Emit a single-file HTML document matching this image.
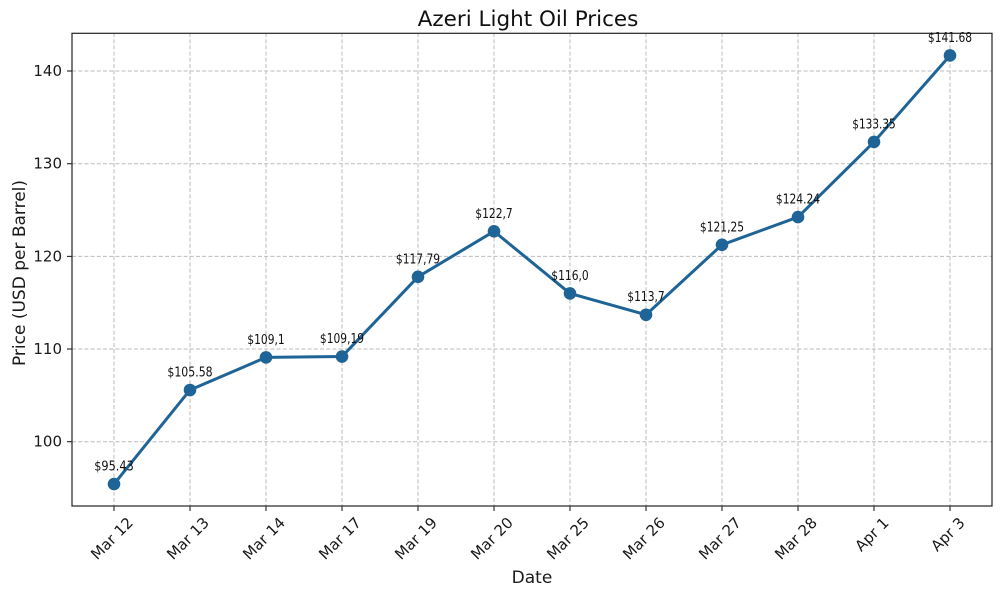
<!DOCTYPE html>
<html>
<head>
<meta charset="utf-8">
<style>
  html,body{margin:0;padding:0;background:#fff;}
  svg{display:block;}
  .tick{font-family:"DejaVu Sans","Liberation Sans",sans-serif;font-size:15px;fill:#1a1a1a;}
  .ann{font-family:"DejaVu Sans Condensed","DejaVu Sans","Liberation Sans",sans-serif;font-stretch:condensed;font-size:13.5px;fill:#111;}
</style>
</head>
<body>
<svg width="1000" height="596" viewBox="0 0 1000 596" xmlns="http://www.w3.org/2000/svg">
  <rect width="1000" height="596" fill="#fff"/>
  <!-- grid -->
  <g stroke="#b0b0b0" stroke-width="1" stroke-dasharray="4,2.2" opacity="0.85">
    <line x1="114" y1="33" x2="114" y2="506"/>
    <line x1="190" y1="33" x2="190" y2="506"/>
    <line x1="266" y1="33" x2="266" y2="506"/>
    <line x1="342" y1="33" x2="342" y2="506"/>
    <line x1="418" y1="33" x2="418" y2="506"/>
    <line x1="494" y1="33" x2="494" y2="506"/>
    <line x1="570" y1="33" x2="570" y2="506"/>
    <line x1="646" y1="33" x2="646" y2="506"/>
    <line x1="722" y1="33" x2="722" y2="506"/>
    <line x1="798" y1="33" x2="798" y2="506"/>
    <line x1="874" y1="33" x2="874" y2="506"/>
    <line x1="950" y1="33" x2="950" y2="506"/>
    <line x1="72" y1="441.7" x2="992" y2="441.7"/>
    <line x1="72" y1="349.0" x2="992" y2="349.0"/>
    <line x1="72" y1="256.4" x2="992" y2="256.4"/>
    <line x1="72" y1="163.7" x2="992" y2="163.7"/>
    <line x1="72" y1="71.0" x2="992" y2="71.0"/>
  </g>
  <!-- axes frame -->
  <rect x="72" y="33.3" width="920" height="472.7" fill="none" stroke="#222" stroke-width="1.2"/>
  <!-- y ticks -->
  <g stroke="#222" stroke-width="1.1">
    <line x1="67" y1="441.7" x2="72" y2="441.7"/>
    <line x1="67" y1="349.0" x2="72" y2="349.0"/>
    <line x1="67" y1="256.4" x2="72" y2="256.4"/>
    <line x1="67" y1="163.7" x2="72" y2="163.7"/>
    <line x1="67" y1="71.0" x2="72" y2="71.0"/>
  </g>
  <g class="tick" text-anchor="end" dominant-baseline="central">
    <text x="62" y="441.7">100</text>
    <text x="62" y="349.0">110</text>
    <text x="62" y="256.4">120</text>
    <text x="62" y="163.7">130</text>
    <text x="62" y="71.0">140</text>
  </g>
  <!-- x ticks -->
  <g stroke="#222" stroke-width="1.1">
    <line x1="114" y1="506" x2="114" y2="511"/>
    <line x1="190" y1="506" x2="190" y2="511"/>
    <line x1="266" y1="506" x2="266" y2="511"/>
    <line x1="342" y1="506" x2="342" y2="511"/>
    <line x1="418" y1="506" x2="418" y2="511"/>
    <line x1="494" y1="506" x2="494" y2="511"/>
    <line x1="570" y1="506" x2="570" y2="511"/>
    <line x1="646" y1="506" x2="646" y2="511"/>
    <line x1="722" y1="506" x2="722" y2="511"/>
    <line x1="798" y1="506" x2="798" y2="511"/>
    <line x1="874" y1="506" x2="874" y2="511"/>
    <line x1="950" y1="506" x2="950" y2="511"/>
  </g>
  <g class="tick" text-anchor="middle" dominant-baseline="central">
    <text transform="translate(112,538.5) rotate(-45)">Mar 12</text>
    <text transform="translate(188,538.5) rotate(-45)">Mar 13</text>
    <text transform="translate(264,538.5) rotate(-45)">Mar 14</text>
    <text transform="translate(340,538.5) rotate(-45)">Mar 17</text>
    <text transform="translate(416,538.5) rotate(-45)">Mar 19</text>
    <text transform="translate(492,538.5) rotate(-45)">Mar 20</text>
    <text transform="translate(568,538.5) rotate(-45)">Mar 25</text>
    <text transform="translate(644,538.5) rotate(-45)">Mar 26</text>
    <text transform="translate(720,538.5) rotate(-45)">Mar 27</text>
    <text transform="translate(796,538.5) rotate(-45)">Mar 28</text>
    <text transform="translate(872,534.5) rotate(-45)">Apr 1</text>
    <text transform="translate(948,534.5) rotate(-45)">Apr 3</text>
  </g>
  <!-- axis labels and title -->
  <text x="532" y="583" text-anchor="middle" font-family="DejaVu Sans, Liberation Sans, sans-serif" font-size="17px" fill="#1a1a1a">Date</text>
  <text transform="translate(25,273) rotate(-90)" text-anchor="middle" font-family="DejaVu Sans, Liberation Sans, sans-serif" font-size="17px" fill="#1a1a1a">Price (USD per Barrel)</text>
  <text x="528" y="26" text-anchor="middle" font-family="DejaVu Sans, Liberation Sans, sans-serif" font-size="21.5px" fill="#111">Azeri Light Oil Prices</text>
  <!-- series -->
  <polyline fill="none" stroke="#1f6496" stroke-width="3" stroke-linejoin="round"
    points="114,484.05 190,389.99 266,357.37 342,356.54 418,276.84 494,231.34 570,293.43 646,314.74 722,244.78 798,217.07 874,141.91 950,55.45"/>
  <g fill="#1f6496">
    <circle cx="114" cy="484.05" r="6.3"/>
    <circle cx="190" cy="389.99" r="6.3"/>
    <circle cx="266" cy="357.37" r="6.3"/>
    <circle cx="342" cy="356.54" r="6.3"/>
    <circle cx="418" cy="276.84" r="6.3"/>
    <circle cx="494" cy="231.34" r="6.3"/>
    <circle cx="570" cy="293.43" r="6.3"/>
    <circle cx="646" cy="314.74" r="6.3"/>
    <circle cx="722" cy="244.78" r="6.3"/>
    <circle cx="798" cy="217.07" r="6.3"/>
    <circle cx="874" cy="141.91" r="6.3"/>
    <circle cx="950" cy="55.45" r="6.3"/>
  </g>
  <!-- annotations -->
  <g class="ann" text-anchor="middle">
    <text x="114" y="470.5" textLength="39.5" lengthAdjust="spacingAndGlyphs">$95.43</text>
    <text x="190" y="376.5" textLength="45.3" lengthAdjust="spacingAndGlyphs">$105.58</text>
    <text x="266" y="343.9" textLength="37.4" lengthAdjust="spacingAndGlyphs">$109,1</text>
    <text x="342" y="343.0" textLength="44.2" lengthAdjust="spacingAndGlyphs">$109,19</text>
    <text x="418" y="263.3" textLength="44.2" lengthAdjust="spacingAndGlyphs">$117,79</text>
    <text x="494" y="217.8" textLength="37.4" lengthAdjust="spacingAndGlyphs">$122,7</text>
    <text x="570" y="279.9" textLength="37.4" lengthAdjust="spacingAndGlyphs">$116,0</text>
    <text x="646" y="301.2" textLength="37.4" lengthAdjust="spacingAndGlyphs">$113,7</text>
    <text x="722" y="231.3" textLength="44.2" lengthAdjust="spacingAndGlyphs">$121,25</text>
    <text x="798" y="203.6" textLength="44.2" lengthAdjust="spacingAndGlyphs">$124.24</text>
    <text x="874" y="128.4" textLength="43.5" lengthAdjust="spacingAndGlyphs">$133.35</text>
    <text x="950" y="42.0" textLength="44.2" lengthAdjust="spacingAndGlyphs">$141.68</text>
  </g>
</svg>
</body>
</html>
